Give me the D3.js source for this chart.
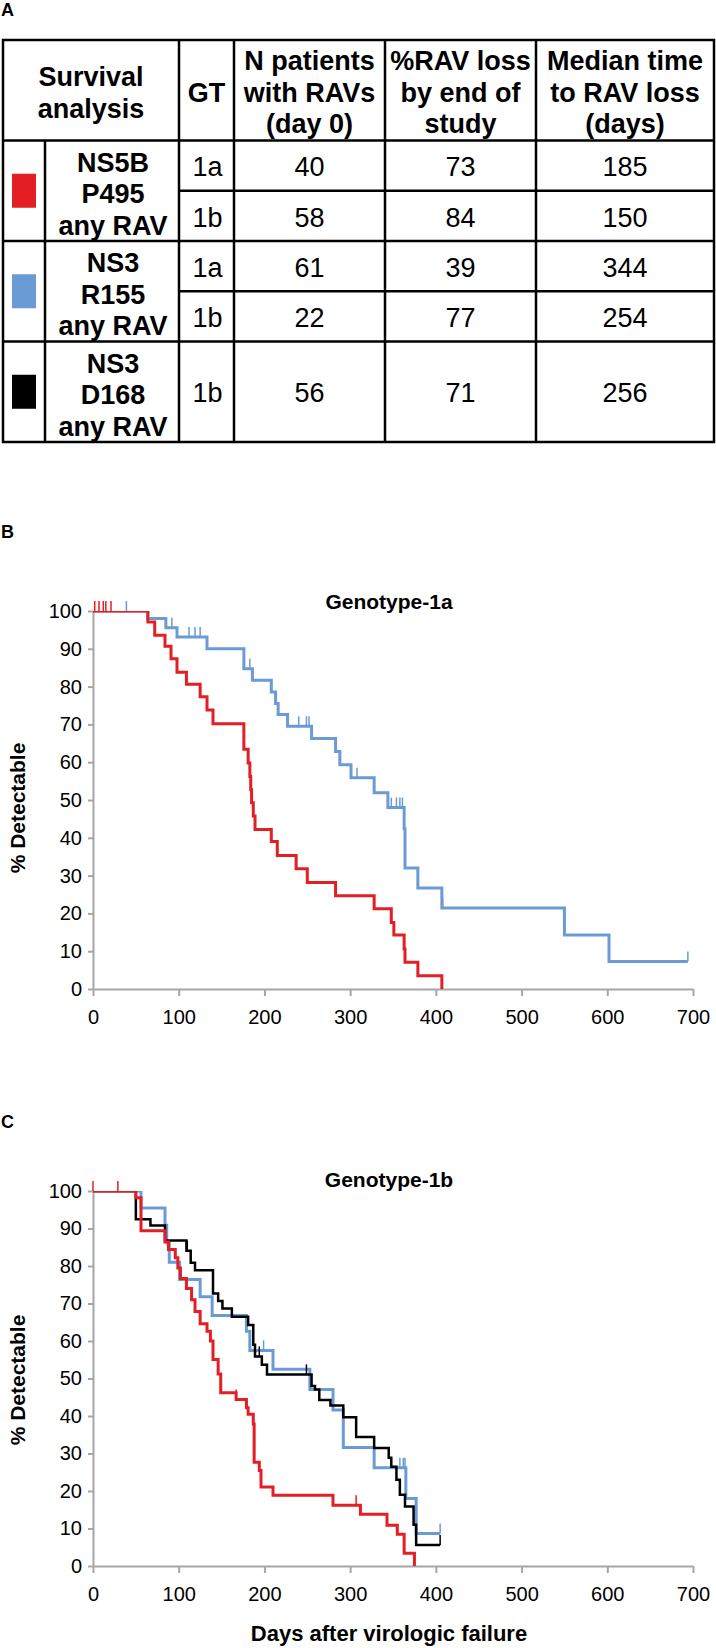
<!DOCTYPE html>
<html><head><meta charset="utf-8">
<script src="https://cdn.jsdelivr.net/npm/d3@7"></script>
<style>
html,body{margin:0;padding:0;background:#fff;}
svg{display:block;font-family:"Liberation Sans",Arial,Helvetica,sans-serif;}
</style></head><body>
<svg id="c" width="716" height="1648"></svg>
<script>
// ---------------- Table data ----------------
const headerLabels = [["Survival","analysis"],["GT"],["N patients","with RAVs","(day 0)"],["%RAV loss","by end of","study"],["Median time","to RAV loss","(days)"]];
const groupNames = [["NS5B","P495","any RAV"],["NS3","R155","any RAV"],["NS3","D168","any RAV"]];
const groupColors = ["#e31e25","#6a9bd4","#000000"];
const rowGroup = [0,0,1,1,2];
const rowSpan = [1,1,1,1,2];
const gtLabels = ["1a","1b","1a","1b","1b"];
const nPatients = [40,58,61,22,56];
const pctLoss = [73,84,39,77,71];
const medianDays = [185,150,344,254,256];

// ---------------- Survival curves ----------------
const xTicks = [0,100,200,300,400,500,600,700];
const yTicks = [0,10,20,30,40,50,60,70,80,90,100];

// Genotype-1a
const ns5b1a = [[0,100],[64,97.1],[72,93.6],[84,90.7],[91,87.4],[98,83.8],[109,80.6],[125,77.3],[133,73.8],[140,70.2],[176,63.4],[181,59.8],[183,56.2],[184,52.7],[185,49.3],[187,45.8],[189,42.2],[208,39],[215,35.3],[237,31.8],[250,28.2],[283,24.7],[328,21.2],[348,17.6],[351,14.3],[363,10.6],[364,7.1],[379,3.5],[407,0]];
const ns5b1aCensor = [2,7,12,15,21];
const r155_1a = [[0,100],[64,98],[85,95.6],[98,93.1],[133,90],[176,84.7],[186,81.7],[208,78.6],[213,75.5],[216,72.6],[227,69.5],[255,66.3],[283,62.8],[288,59.3],[301,55.9],[328,51.9],[344,48],[363,42.4],[364,32],[379,26.7],[407,21.4],[550,14.3],[602,7.3],[694,7.3]];
const r155_1aCensor = [39,92,112,119,125,183,240,249,252,308,348,354,358,361,408,694];

// Genotype-1b
const ns5b1b = [[0,100],[50,98.2],[56,89.4],[84,86.4],[88,84.4],[96,82.2],[99,79.5],[102,76.7],[109,74],[115,71],[119,67.9],[125,64.6],[133,62.6],[137,60],[140,55.1],[146,51.2],[149,46.2],[167,44.4],[179,42.2],[181,40.5],[187,37.9],[188,27.7],[194,25.5],[196,21.1],[210,18.9],[280,16.2],[312,13.8],[343,10.9],[355,8.5],[363,3.4],[375,0]];
const ns5b1bCensor = [0,29,167,307];
const r155_1b = [[0,100],[56,95.5],[84,90.9],[86,86.4],[89,81],[101,76.4],[125,71.8],[139,66.8],[179,62.6],[183,57.5],[210,52.5],[253,47.1],[280,41.6],[292,31.6],[328,26.2],[365,18],[377,8.7],[405,8.7]];
const r155_1bCensor = [199,358,362,364,405];
const d168_1b = [[0,100],[50,92.5],[67,90.8],[84,86.8],[109,84.1],[114,80.9],[119,78.9],[140,72.7],[146,70.7],[151,68.7],[162,66.5],[181,64.3],[187,59],[189,55.9],[197,53.7],[203,51.1],[255,48],[259,47.1],[264,44.3],[277,42.8],[292,39.7],[307,34.4],[328,31.5],[345,28.9],[348,26.5],[354,23],[358,19],[364,15.9],[374,11],[377,5.6],[405,5.6]];
const d168_1bCensor = [110,194,249,307,405];

const FONT = '"Liberation Sans",Arial,Helvetica,sans-serif';
const svg = d3.select("#c");

// Panel letters
[["A",16],["B",538],["C",1128]].forEach(([t,y])=>{
  svg.append("text").attr("x",1).attr("y",y).attr("font-size",18).attr("font-weight","bold").text(t);
});

// ---------------- Table ----------------
const colEdges = [3,45,179,234,385,536,714];
const unitY = d3.scaleLinear().domain([0,8]).range([40,442]);
const rowStart = [2,3,4,5,6];
const TFS = 27, LH = 31.5;
const tbl = svg.append("g");

function multiline(g, lines, cx, cy, weight){
  const n = lines.length;
  lines.forEach((l,i)=>{
    g.append("text").attr("x",cx).attr("y",cy + (i-(n-1)/2)*LH + TFS*0.36)
      .attr("text-anchor","middle").attr("font-size",TFS).attr("font-weight",weight).text(l);
  });
}
// header
const hCols = [[colEdges[0],colEdges[2]],[colEdges[2],colEdges[3]],[colEdges[3],colEdges[4]],[colEdges[4],colEdges[5]],[colEdges[5],colEdges[6]]];
headerLabels.forEach((lines,i)=>{
  multiline(tbl, lines, (hCols[i][0]+hCols[i][1])/2, (unitY(0)+unitY(2))/2+2, "bold");
});
// groups
const groupStart = [2,4,6];
groupNames.forEach((lines,g)=>{
  const y0 = unitY(groupStart[g]), y1 = unitY(groupStart[g]+2);
  const cy = (y0+y1)/2;
  tbl.append("rect").attr("x",(colEdges[0]+colEdges[1])/2-12).attr("y",cy-17).attr("width",24).attr("height",34).attr("fill",groupColors[g]);
  multiline(tbl, lines, (colEdges[1]+colEdges[2])/2+1, cy+3, "bold");
});
// rows
const rowVals = gtLabels.map((gt,i)=>[gt,nPatients[i],pctLoss[i],medianDays[i]]);
rowVals.forEach((vals,i)=>{
  const cy = (unitY(rowStart[i])+unitY(rowStart[i]+rowSpan[i]))/2 + 1;
  vals.forEach((v,j)=>{
    const cx = (colEdges[j+2]+colEdges[j+3])/2 + (j===0?1:0);
    tbl.append("text").attr("x",cx).attr("y",cy+TFS*0.36).attr("text-anchor","middle")
      .attr("font-size",TFS).text(v);
  });
});
// grid lines
const LW = 2.5;
function hline(x0,x1,y){tbl.append("line").attr("x1",x0).attr("x2",x1).attr("y1",y).attr("y2",y).attr("stroke","#000").attr("stroke-width",LW);}
function vline(x,y0,y1){tbl.append("line").attr("x1",x).attr("x2",x).attr("y1",y0).attr("y2",y1).attr("stroke","#000").attr("stroke-width",LW);}
tbl.append("rect").attr("x",colEdges[0]).attr("y",unitY(0)).attr("width",colEdges[6]-colEdges[0]).attr("height",unitY(8)-unitY(0))
  .attr("fill","none").attr("stroke","#000").attr("stroke-width",LW);
[2,4,6].forEach(u=>hline(colEdges[0],colEdges[6],unitY(u)));
[3,5].forEach(u=>hline(colEdges[2],colEdges[6],unitY(u)));
[2,3,4,5].forEach(c=>vline(colEdges[c],unitY(0),unitY(8)));
vline(colEdges[1],unitY(2),unitY(8));

// ---------------- Charts ----------------
const x = d3.scaleLinear().domain([0,700]).range([93,693]);
function stepVal(data, d){
  const i = d3.bisector(p=>p[0]).right(data, d) - 1;
  return data[Math.max(0,i)][1];
}
function panel(id, yTop, yBottom, title, titleY, labelY, series){
  const y = d3.scaleLinear().domain([0,100]).range([yBottom,yTop]);
  const g = svg.append("g");
  svg.append("clipPath").attr("id","clip"+id).append("rect")
    .attr("x",x(0)).attr("y",yTop).attr("width",x(700)-x(0)+10).attr("height",yBottom-yTop+3);

  const gy = g.append("g").attr("transform",`translate(${x(0)},0)`)
    .call(d3.axisLeft(y).tickValues(yTicks).tickSize(5).tickSizeOuter(0).tickPadding(6));
  const gx = g.append("g").attr("transform",`translate(0,${yBottom})`)
    .call(d3.axisBottom(x).tickValues(xTicks).tickSize(7).tickSizeOuter(0).tickPadding(14));
  [gy,gx].forEach(a=>{
    a.select(".domain").attr("stroke","#a6a6a6").attr("stroke-width",2);
    a.selectAll(".tick line").attr("stroke","#a6a6a6").attr("stroke-width",2);
    a.selectAll(".tick text").attr("fill","#000").attr("font-size",20).attr("font-family",FONT);
  });

  const line = d3.line().x(d=>x(d[0])).y(d=>y(d[1])).curve(d3.curveStepAfter);
  series.forEach(s=>{
    g.append("path").datum(s.data).attr("d",line).attr("fill","none")
      .attr("stroke",s.color).attr("stroke-width",s.width).attr("clip-path",`url(#clip${id})`);
    s.censor.forEach(d=>{
      const v = stepVal(s.data,d);
      g.append("line").attr("x1",x(d)).attr("x2",x(d)).attr("y1",y(v)).attr("y2",y(v)-10)
        .attr("stroke",s.color).attr("stroke-width",1.5);
    });
  });
  svg.append("text").attr("x",389).attr("y",titleY).attr("text-anchor","middle")
    .attr("font-size",21).attr("font-weight","bold").text(title);
  svg.append("text").attr("transform",`translate(25,${labelY}) rotate(-90)`)
    .attr("text-anchor","middle").attr("font-size",21).attr("font-weight","bold").text("% Detectable");
}

panel("B", 611, 989, "Genotype-1a", 609, 808, [
  {data:r155_1a, censor:r155_1aCensor, color:groupColors[1], width:3},
  {data:ns5b1a, censor:ns5b1aCensor, color:groupColors[0], width:3}
]);
panel("C", 1191, 1566, "Genotype-1b", 1187, 1380, [
  {data:r155_1b, censor:r155_1bCensor, color:groupColors[1], width:3},
  {data:d168_1b, censor:d168_1bCensor, color:groupColors[2], width:2.5},
  {data:ns5b1b, censor:ns5b1bCensor, color:groupColors[0], width:3}
]);

svg.append("text").attr("x",389).attr("y",1641).attr("text-anchor","middle")
  .attr("font-size",22).attr("font-weight","bold").text("Days after virologic failure");
</script>
</body></html>
